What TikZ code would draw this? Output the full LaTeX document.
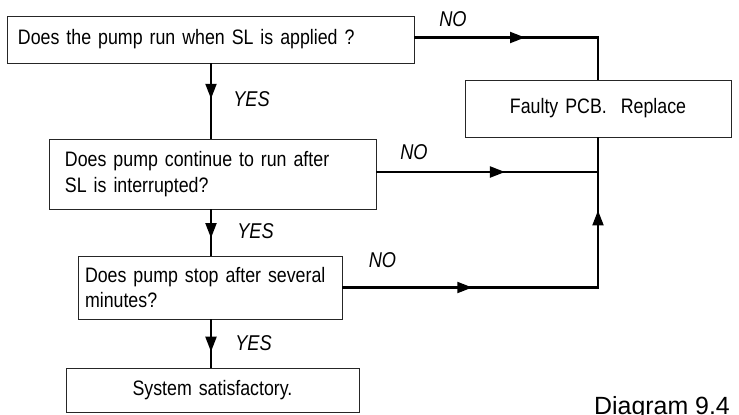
\documentclass[tikz,border=0pt]{standalone}
\usepackage{fontspec}
\setmainfont{Liberation Sans}[FakeStretch=0.85]
\newfontfamily\capfont{Liberation Sans}
\usetikzlibrary{arrows.meta,decorations.markings}
\tikzset{
  box/.style={draw=black!85, line width=0.9bp, inner sep=0pt, font=\fontsize{21}{26}\selectfont},
  conn/.style={line width=2.1bp},
  lbl/.style={inner sep=0pt, font=\fontsize{21.5}{24}\selectfont\itshape},
  midarrow/.style={postaction={decorate}, decoration={markings,
      mark=at position #1 with {\arrow{Triangle[length=15bp,width=11bp]}}}},
  twoarrows/.style 2 args={postaction={decorate}, decoration={markings,
      mark=at position #1 with {\arrow{Triangle[length=15bp,width=11bp]}},
      mark=at position #2 with {\arrow{Triangle[length=15bp,width=11bp]}}}}
}
\begin{document}
\begin{tikzpicture}[x=1bp,y=-1bp]
\useasboundingbox (0,0) rectangle (739,414);
% boxes
\node[box, minimum width=407bp, minimum height=47bp, text width=385bp, align=left] (b1) at (210.5,39.5) {Does the pump run when SL is applied ?};
\node[box, minimum width=327bp, minimum height=70bp, text width=295bp, align=left] (b2) at (212.5,174) {Does pump continue to run after\\SL is interrupted?};
\node[box, minimum width=264bp, minimum height=63bp, text width=250bp, align=left] (b3) at (210,287.5) {Does pump stop after several\\minutes?};
\node[box, minimum width=293bp, minimum height=44bp, text width=277bp, align=center] (b4) at (212.5,390) {System satisfactory.};
\node[box, minimum width=266bp, minimum height=57bp, text width=250bp, align=center] (pcb) at (598,108.5) {Faulty PCB.\ \ Replace};
% spine
\coordinate (sp) at (211,0);
\draw[conn, midarrow=0.47] (b1.south -| sp) -- (b2.north -| sp);
\draw[conn, midarrow=0.62] (b2.south -| sp) -- (b3.north -| sp);
\draw[conn, midarrow=0.67] (b3.south -| sp) -- (b4.north -| sp);
% NO branches
\draw[conn, midarrow=0.49] ([yshift=2bp]b1.east) -| (pcb.north);
\draw[conn, midarrow=0.58] ([yshift=2bp]b2.east) -- ([yshift=2bp]b2.east -| pcb.south);
\draw[conn, twoarrows={0.32}{0.82}] (b3.east) -| (pcb.south);
% labels
\node[lbl] (no1) at (453,19.5) {NO};
\node[lbl] (yes1) at (251.5,99.5) {YES};
\node[lbl] (no2) at (414,152.5) {NO};
\node[lbl] (yes2) at (255.5,231) {YES};
\node[lbl] (no3) at (382.5,260.5) {NO};
\node[lbl] (yes3) at (253.5,343.5) {YES};
% caption
\node[anchor=base west, inner sep=0pt, font=\capfont\fontsize{25}{30}\selectfont] (cap) at (594,414.5) {Diagram 9.4};
\end{tikzpicture}
\end{document}
